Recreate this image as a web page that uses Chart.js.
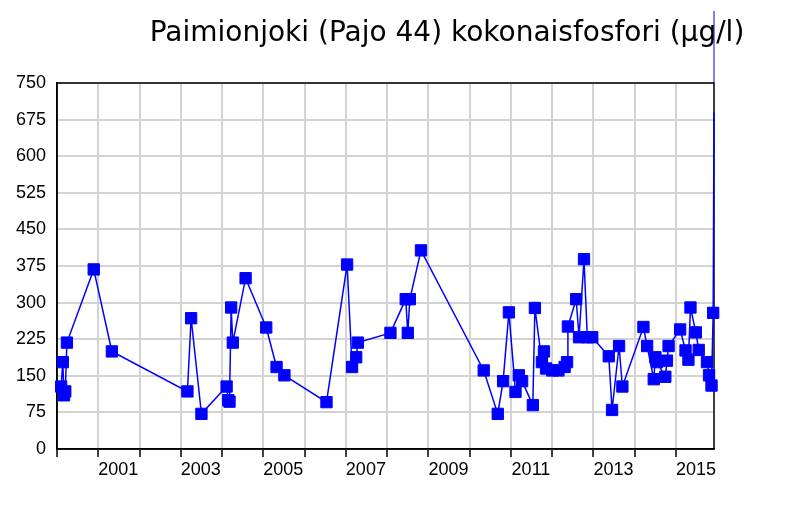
<!DOCTYPE html>
<html>
<head>
<meta charset="utf-8">
<title>Paimionjoki kokonaisfosfori</title>
<script src="https://cdn.jsdelivr.net/npm/chart.js@4"></script>
<style>
    body { margin: 0; background: #fff; }
    canvas { display: block; }
</style>
</head>
<body>
<canvas id="phosphorusChart" width="796" height="508"></canvas>
<script>
// Sample dates as decimal years
const sampleDates = [
    2000.10, 2000.14, 2000.17, 2000.20, 2000.24, 2000.89, 2001.33,
    2003.16, 2003.25, 2003.50, 2004.11, 2004.15, 2004.18, 2004.22, 2004.26, 2004.57,
    2005.07, 2005.32, 2005.51, 2006.53,
    2007.03, 2007.15, 2007.25, 2007.29, 2008.08, 2008.45, 2008.50, 2008.55, 2008.82,
    2010.34, 2010.68, 2010.81, 2010.95, 2011.11, 2011.19, 2011.27, 2011.53, 2011.58,
    2011.75, 2011.80, 2011.85, 2012.00, 2012.15, 2012.30, 2012.36, 2012.38, 2012.58,
    2012.65, 2012.77, 2012.85, 2012.97,
    2013.37, 2013.45, 2013.62, 2013.70, 2014.21, 2014.30, 2014.46, 2014.50, 2014.54,
    2014.74, 2014.78, 2014.82, 2015.10, 2015.23, 2015.30, 2015.35, 2015.48, 2015.55,
    2015.75, 2015.80, 2015.86, 2015.90, 2015.92
];

// Total phosphorus (µg/l)
const phosphorus = [
    128, 178, 110, 118, 218, 368, 200,
    118, 268, 72, 128, 100, 97, 290, 218, 350,
    249, 168, 151, 96,
    378, 168, 188, 218, 238, 307, 238, 307, 407,
    161, 72, 139, 280, 117, 151, 139, 90, 289,
    178, 200, 165, 161, 161, 168, 178, 251, 307,
    229, 389, 229, 229,
    190, 80, 211, 128, 250, 211, 143, 188, 178,
    148, 181, 211, 245, 202, 183, 290, 239, 203,
    178, 151, 130, 279, 690
];

const yTicks = [0, 75, 150, 225, 300, 375, 450, 525, 600, 675, 750];
const yearTicks = [2000, 2001, 2002, 2003, 2004, 2005, 2006, 2007, 2008,
    2009, 2010, 2011, 2012, 2013, 2014, 2015];
const labelYears = [2001, 2003, 2005, 2007, 2009, 2011, 2013, 2015];

const xMin = 2000;
const xMax = 2015.92;
const chartTitle = 'Paimionjoki (Pajo 44) kokonaisfosfori (µg/l)';

const tickFont = { family: "'Liberation Sans', Arial, sans-serif", size: 18 };

document.addEventListener('DOMContentLoaded', function() {
    createPhosphorusChart();
});

// Frame round the plot + title text
const framePlugin = {
    id: 'frame',
    beforeDatasetsDraw(chart) {
        const { ctx, chartArea } = chart;
        ctx.save();
        ctx.strokeStyle = '#000';
        ctx.lineWidth = 1.5;
        ctx.strokeRect(chartArea.left, chartArea.top,
            chartArea.right - chartArea.left, chartArea.bottom - chartArea.top);
        ctx.restore();
    },
    afterDraw(chart) {
        const { ctx, chartArea } = chart;
        ctx.save();
        // blue line running off the top at the last sample
        const xEnd = chart.scales.x.getPixelForValue(xMax);
        ctx.strokeStyle = '#0000ff';
        ctx.lineWidth = 1;
        ctx.beginPath();
        ctx.moveTo(xEnd, 11);
        ctx.lineTo(xEnd, chartArea.top);
        ctx.stroke();

        ctx.fillStyle = '#000';
        ctx.font = "28px 'DejaVu Sans', Verdana, sans-serif";
        ctx.textAlign = 'center';
        ctx.textBaseline = 'middle';
        ctx.fillText(chartTitle, 447, 34);
        ctx.restore();
    }
};

function createPhosphorusChart() {
    const ctx = document.getElementById('phosphorusChart').getContext('2d');
    const points = sampleDates.map((d, i) => ({ x: d, y: phosphorus[i] }));
    const lastIndex = points.length - 1;

    new Chart(ctx, {
        type: 'line',
        data: {
            datasets: [{
                data: points,
                borderColor: '#0000ff',
                backgroundColor: '#0000ff',
                borderWidth: 1.5,
                pointStyle: 'rect',
                pointRadius: c => c.dataIndex === lastIndex ? 0 : 8,
                pointBorderWidth: 1,
                pointBorderColor: '#0000ff',
                pointBackgroundColor: '#0000ff',
                tension: 0,
                clip: false
            }]
        },
        options: {
            responsive: false,
            animation: false,
            layout: {
                padding: { top: 83, left: 8, right: 82, bottom: 19 }
            },
            plugins: {
                legend: { display: false },
                title: { display: false },
                tooltip: { enabled: false }
            },
            scales: {
                x: {
                    type: 'linear',
                    min: xMin,
                    max: xMax,
                    afterBuildTicks: axis => {
                        axis.ticks = yearTicks.map(v => ({ value: v }));
                    },
                    afterFit: axis => { axis.height = 40; },
                    grid: {
                        color: '#d3d3d3',
                        lineWidth: 2,
                        tickColor: '#000',
                        tickLength: 8,
                        tickWidth: 1.5
                    },
                    border: { display: true, color: '#000', width: 1.5 },
                    ticks: {
                        autoSkip: false,
                        maxRotation: 0,
                        padding: 2,
                        labelOffset: 20,
                        color: '#000',
                        font: tickFont,
                        callback: v => labelYears.includes(v) ? String(v) : ''
                    }
                },
                y: {
                    min: 0,
                    max: 750,
                    afterBuildTicks: axis => {
                        axis.ticks = yTicks.map(v => ({ value: v }));
                    },
                    afterFit: axis => { axis.width = 49; },
                    grid: {
                        color: '#d3d3d3',
                        lineWidth: 2,
                        drawTicks: false
                    },
                    border: { display: true, color: '#000', width: 1.5 },
                    ticks: {
                        padding: 11,
                        color: '#000',
                        font: tickFont
                    }
                }
            }
        },
        plugins: [framePlugin]
    });
}
</script>
</body>
</html>
